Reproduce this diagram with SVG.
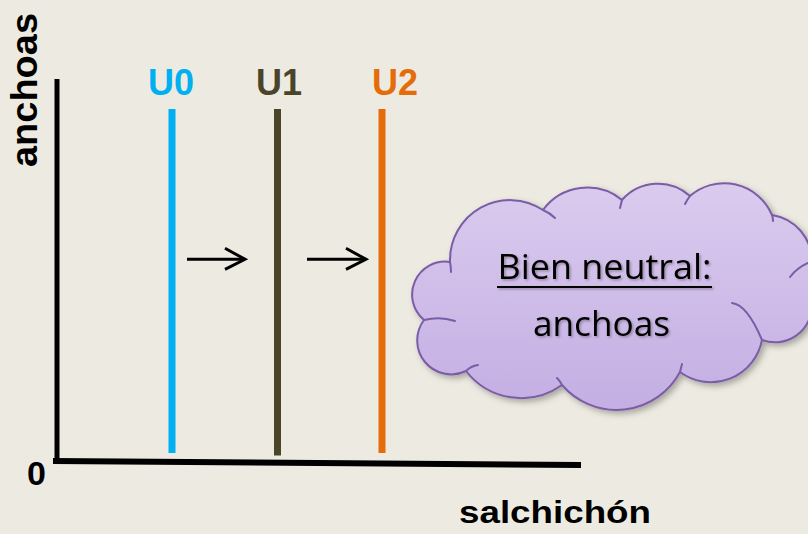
<svg xmlns="http://www.w3.org/2000/svg" width="808" height="534" viewBox="0 0 808 534">
<defs>
<style>
.lbl{font-family:"Liberation Sans",Arial,sans-serif;font-weight:bold;}
.cl{font-family:"Open Sans","Noto Sans",sans-serif;font-size:35px;fill:#000;}
.axis{stroke:#000;fill:none;stroke-linecap:butt;}
.crease{fill:none;stroke:#7A5DA6;stroke-width:2;stroke-linecap:round;}
.arr{stroke:#000;stroke-width:3;fill:none;}
</style>
<linearGradient id="cg" x1="0" y1="0" x2="0" y2="1">
<stop offset="0" stop-color="#DACBEE"/>
<stop offset="1" stop-color="#C4AEE3"/>
</linearGradient>
<filter id="sh" x="-10%" y="-10%" width="130%" height="130%">
<feDropShadow dx="3" dy="3" stdDeviation="3" flood-color="#000" flood-opacity="0.3"/>
</filter>
<filter id="tsh" x="-5%" y="-20%" width="115%" height="150%">
<feDropShadow dx="1.5" dy="1.5" stdDeviation="1" flood-color="#000" flood-opacity="0.3"/>
</filter>
<marker id="ah" markerUnits="userSpaceOnUse" markerWidth="30" markerHeight="30" viewBox="-24 -15 30 30" refX="0" refY="0" orient="auto">
<path d="M-20,-11 L0,0 L-20,10" fill="none" stroke="#000" stroke-width="3" stroke-linejoin="miter"/>
</marker>
</defs>
<rect width="808" height="534" fill="#EDEBE1"/>

<g id="axes">
<line class="axis" x1="57" y1="79" x2="57" y2="462" stroke-width="5"/>
<line class="axis" x1="53" y1="461" x2="581" y2="465" stroke-width="6"/>
<text class="lbl" x="37" y="167" font-size="36" transform="rotate(-90 37 167)" textLength="154" lengthAdjust="spacingAndGlyphs">anchoas</text>
<text class="lbl" x="27" y="485" font-size="34">0</text>
<text class="lbl" x="459" y="523" font-size="32" textLength="192" lengthAdjust="spacingAndGlyphs">salchichón</text>
</g>

<g id="U0">
<line x1="172" y1="109" x2="172" y2="453" stroke="#00B0F0" stroke-width="7"/>
<text class="lbl" x="171" y="95" font-size="36" fill="#00B0F0" text-anchor="middle">U0</text>
</g>
<g id="U1">
<line x1="277.5" y1="109" x2="277.5" y2="455.5" stroke="#4A4429" stroke-width="7"/>
<text class="lbl" x="279" y="95" font-size="36" fill="#4A4429" text-anchor="middle">U1</text>
</g>
<g id="U2">
<line x1="382" y1="109" x2="382" y2="453" stroke="#E46C0A" stroke-width="7"/>
<text class="lbl" x="395" y="95" font-size="36" fill="#E46C0A" text-anchor="middle">U2</text>
</g>

<g id="connectors">
<line class="arr" x1="187" y1="259.3" x2="245" y2="259.3" marker-end="url(#ah)"/>
<line class="arr" x1="307" y1="259.3" x2="366" y2="259.3" marker-end="url(#ah)"/>
</g>

<g id="cloud">
<path filter="url(#sh)" fill="url(#cg)" stroke="#7A5DA6" stroke-width="2" stroke-linejoin="round"
 d="M450,262 A60,60 0 0 1 543,210 A55,55 0 0 1 622,200 A48,48 0 0 1 690,196 A52,52 0 0 1 772,215 A47,47 0 0 1 812,262 L830,262 L830,305 L812,305 A37,37 0 0 1 762,340 A52,52 0 0 1 680,372 A72,72 0 0 1 562,385 A70,70 0 0 1 466,371 A34,34 0 0 1 424,320 A33,33 0 0 1 450,262 Z"/>
<path class="crease" d="M450,262 Q451,267 451,272"/>
<path class="crease" d="M543,210 Q550,213 555,218"/>
<path class="crease" d="M622,200 Q621,204 620,208"/>
<path class="crease" d="M690,196 Q687,200 685,204"/>
<path class="crease" d="M772,215 Q773,218 773,221"/>
<path class="crease" d="M808,263 Q797,268 790,277"/>
<path class="crease" d="M732,303 Q747,304.5 762,340"/>
<path class="crease" d="M680,372 Q681,368 682,364"/>
<path class="crease" d="M562,385 Q560,381 557,378"/>
<path class="crease" d="M466,371 Q471,366 478,365"/>
<path class="crease" d="M424,320 Q440,316 455,321"/>
<g filter="url(#tsh)">
<text class="cl" x="604.5" y="279" text-anchor="middle" textLength="214" lengthAdjust="spacingAndGlyphs">Bien neutral:</text>
<line x1="497" y1="287" x2="712" y2="287" stroke="#000" stroke-width="2"/>
<text class="cl" x="601.5" y="336" text-anchor="middle" textLength="137" lengthAdjust="spacingAndGlyphs">anchoas</text>
</g>
</g>
</svg>
